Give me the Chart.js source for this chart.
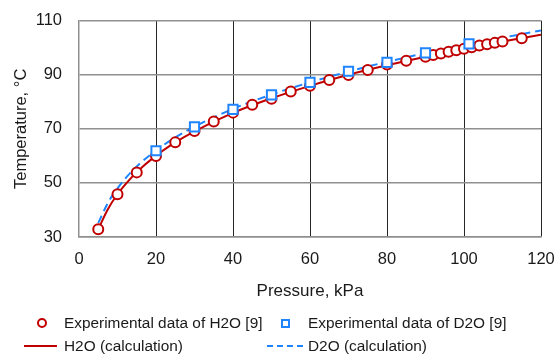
<!DOCTYPE html>
<html>
<head>
<meta charset="utf-8">
<script src="https://cdn.jsdelivr.net/npm/chart.js@4.4.1/dist/chart.umd.min.js"></script>
<style>
body { margin: 0; background: #fff; }
#wrap { position: relative; width: 559px; height: 354px; font-family: "Liberation Sans", Arial, sans-serif; }
.leg { position: absolute; font-size: 15.4px; color: #1a1a1a; line-height: 18px; white-space: nowrap; }
.mk { position: absolute; box-sizing: border-box; }
</style>
</head>
<body>
<div id="wrap">
  <canvas id="chart" width="559" height="354"></canvas>
  <div class="mk" style="left:37px;top:318px;width:10px;height:10px;border:2px solid #c00000;border-radius:50%;"></div>
  <div class="leg" style="left:64px;top:314px;">Experimental data of H2O [9]</div>
  <div class="mk" style="left:281px;top:319px;width:9px;height:9px;border:2px solid #1e84ff;"></div>
  <div class="leg" style="left:308px;top:314px;">Experimental data of D2O [9]</div>
  <div class="mk" style="left:24px;top:345px;width:33px;height:0;border-top:2px solid #c00000;"></div>
  <div class="leg" style="left:64px;top:337px;">H2O (calculation)</div>
  <div class="mk" style="left:267px;top:345px;width:36px;height:0;border-top:2px dashed #1e84ff;"></div>
  <div class="leg" style="left:308px;top:337px;">D2O (calculation)</div>
</div>
<script>
// experimental points
const h2oExpP = [5, 10, 15, 20, 25, 30, 35, 40, 45, 50, 55, 60, 65, 70, 75, 80, 85, 90, 92, 94, 96, 98, 100, 102, 104, 106, 108, 110, 115];
const h2oExpT = [32.9, 45.8, 53.9, 60.0, 65.0, 69.2, 72.7, 76.0, 78.9, 81.1, 83.8, 85.9, 88.1, 89.9, 91.8, 93.8, 95.2, 96.7, 97.3, 97.9, 98.5, 99.1, 99.6, 100.2, 100.8, 101.3, 101.8, 102.3, 103.5];

const d2oExpP = [20, 30, 40, 50, 60, 70, 80, 90, 101.3];
const d2oExpT = [61.9, 70.7, 77.2, 82.6, 87.2, 91.3, 94.6, 98.1, 101.4];

// calculated curves
const calcP = [5, 7.5, 10, 12.5, 15, 20, 25, 30, 40, 50, 60, 70, 80, 90, 100, 110, 120];
const h2oCalcT = [32.9, 40.3, 45.8, 50.2, 54.0, 60.1, 65.0, 69.1, 75.9, 81.3, 85.9, 90.0, 93.5, 96.7, 99.6, 102.3, 104.8];
const d2oCalcT = [35.2, 42.6, 48.0, 52.4, 56.1, 62.0, 66.8, 70.8, 77.4, 82.7, 87.2, 91.2, 94.8, 98.0, 101.0, 103.7, 106.4];

const xTicks = [0, 20, 40, 60, 80, 100, 120];
const yTicks = [30, 50, 70, 90, 110];

const red = '#c00000';
const blue = '#1e84ff';

function pts(xs, ys) {
    return xs.map((x, i) => ({x: x, y: ys[i]}));
}

// labels may hang over the plot edges, the layout padding handles that
function noOverflow(s) {
    s.paddingLeft = 0; s.paddingRight = 0; s.paddingTop = 0; s.paddingBottom = 0;
}

const ctx = document.getElementById('chart');
const chart = new Chart(ctx, {
    type: 'scatter',
    data: {
        datasets: [
            {
                label: 'Experimental data of D2O [9]',
                data: pts(d2oExpP, d2oExpT),
                pointStyle: 'rect',
                pointRadius: 6.5,
                borderColor: blue,
                backgroundColor: '#fff',
                pointBorderWidth: 2,
                order: 0
            },
            {
                label: 'Experimental data of H2O [9]',
                data: pts(h2oExpP, h2oExpT),
                pointStyle: 'circle',
                pointRadius: 5,
                borderColor: red,
                backgroundColor: '#fff',
                pointBorderWidth: 2,
                order: 1
            },
            {
                label: 'H2O (calculation)',
                data: pts(calcP, h2oCalcT),
                showLine: true,
                pointRadius: 0,
                borderColor: red,
                borderWidth: 2,
                cubicInterpolationMode: 'monotone',
                order: 2
            },
            {
                label: 'D2O (calculation)',
                data: pts(calcP, d2oCalcT),
                showLine: true,
                pointRadius: 0,
                borderColor: blue,
                borderWidth: 2,
                borderDash: [8, 5],
                cubicInterpolationMode: 'monotone',
                order: 3
            }
        ]
    },
    options: {
        responsive: false,
        animation: false,
        layout: { padding: { left: 0, right: 18, top: 20.7, bottom: 52 } },
        plugins: { legend: { display: false }, tooltip: { enabled: false } },
        scales: {
            x: {
                type: 'linear',
                min: 0, max: 120,
                afterBuildTicks: s => { s.ticks = xTicks.map(v => ({value: v})); },
                afterFit: s => { s.height = 65; noOverflow(s); },
                grid: {
                    color: c => c.index === 0 ? 'rgba(0,0,0,0)' : '#262626',
                    lineWidth: 1,
                    drawTicks: false
                },
                border: { color: '#8f8f8f', width: 1.5 },
                ticks: { padding: 13, color: '#1a1a1a', font: { family: 'Liberation Sans', size: 16.5 }, maxRotation: 0 },
                title: {
                    display: true,
                    text: 'Pressure, kPa',
                    color: '#1a1a1a',
                    font: { family: 'Liberation Sans', size: 17 },
                    padding: { top: 0, bottom: 0 }
                }
            },
            y: {
                type: 'linear',
                min: 30, max: 110,
                afterBuildTicks: s => { s.ticks = yTicks.map(v => ({value: v})); },
                afterFit: s => { s.width = 79; noOverflow(s); },
                grid: { color: '#8f8f8f', lineWidth: 1.5, drawTicks: false },
                border: { color: '#8f8f8f', width: 1.5 },
                ticks: { padding: 17, color: '#1a1a1a', font: { family: 'Liberation Sans', size: 16.5 } },
                title: {
                    display: true,
                    text: 'Temperature, °C',
                    color: '#1a1a1a',
                    font: { family: 'Liberation Sans', size: 16.5 },
                    padding: { top: 12, bottom: 0 }
                }
            }
        }
    }
});
</script>
</body>
</html>
